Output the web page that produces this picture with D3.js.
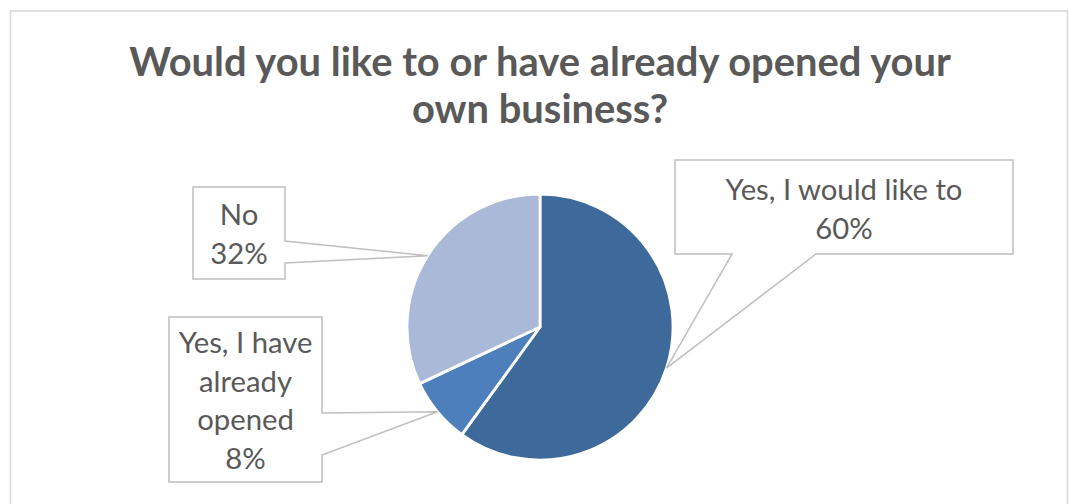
<!DOCTYPE html>
<html>
<head>
<meta charset="utf-8">
<script src="https://cdn.jsdelivr.net/npm/d3@7"></script>
<style>
  html, body { margin: 0; padding: 0; background: #fff; }
  svg { display: block; }
</style>
</head>
<body>
<svg id="chart" width="1069" height="504"></svg>
<script>
// Survey answers, clockwise from 12 o'clock
const categories = ["Yes, I would like to", "Yes, I have already opened", "No"];
const values = [60, 8, 32];
const labelLines = [
  ["Yes, I would like to", "60%"],
  ["Yes, I have", "already", "opened", "8%"],
  ["No", "32%"]
];
const colors = ["#3E6A9B", "#4C7FBC", "#AAB9D7"];
const titleLines = ["Would you like to or have already opened your", "own business?"];

const svg = d3.select("#chart");
const font = "Lato, 'Open Sans', sans-serif";
const textColor = "#595959";

// Chart area frame
svg.append("rect")
  .attr("x", 10.5).attr("y", 11)
  .attr("width", 1057).attr("height", 520)
  .attr("fill", "#fff")
  .attr("stroke", "#D9D9D9").attr("stroke-width", 1.6);

// Size a font so that a sample string spans a given width
function fitSize(sample, weight, targetWidth) {
  const t = svg.append("text").attr("font-family", font)
    .attr("font-weight", weight).attr("font-size", 100).text(sample);
  const w = t.node().getComputedTextLength();
  t.remove();
  return 100 * targetWidth / w;
}

// Title
const titleSize = fitSize(titleLines[0], 700, 822);
const titleG = svg.append("text")
  .attr("font-family", font).attr("font-weight", 700)
  .attr("font-size", titleSize).attr("fill", textColor)
  .attr("text-anchor", "middle");
titleG.selectAll("tspan").data(titleLines).join("tspan")
  .attr("x", 540).attr("y", (d, i) => 76 + i * 47).text(d => d);

// Pie
const cx = 540, cy = 327, r = 133;
const pie = d3.pie().sort(null).value(d => d);
const arcs = pie(values);
const arc = d3.arc().innerRadius(0).outerRadius(r);
const rim = d3.arc().innerRadius(r).outerRadius(r);

const g = svg.append("g").attr("transform", `translate(${cx},${cy})`);
g.selectAll("path").data(arcs).join("path")
  .attr("d", arc)
  .attr("fill", (d, i) => colors[i])
  .attr("stroke", "#fff").attr("stroke-width", 2.8)
  .attr("stroke-linejoin", "round");

// Callout boxes: [left, top, right, bottom], pointer side and its two base points
const boxes = [
  { x0: 675, y0: 160, x1: 1013, y1: 254, side: "bottom", a: 732, b: 816, first: 200 },
  { x0: 169, y0: 317, x1: 322, y1: 482, side: "right", a: 413, b: 455, first: 353 },
  { x0: 193, y0: 187, x1: 285, y1: 279, side: "right", a: 241, b: 263, first: 225 }
];

const labelSize = fitSize("Yes, I would like to", 400, 237);

arcs.forEach((d, i) => {
  const bx = boxes[i];
  const [tx0, ty0] = rim.centroid(d);
  const tx = cx + tx0, ty = cy + ty0;
  const p = d3.path();
  p.moveTo(bx.x0, bx.y0);
  p.lineTo(bx.x1, bx.y0);
  if (bx.side === "right") {
    p.lineTo(bx.x1, bx.a);
    p.lineTo(tx, ty);
    p.lineTo(bx.x1, bx.b);
    p.lineTo(bx.x1, bx.y1);
    p.lineTo(bx.x0, bx.y1);
  } else {
    p.lineTo(bx.x1, bx.y1);
    p.lineTo(bx.b, bx.y1);
    p.lineTo(tx, ty);
    p.lineTo(bx.a, bx.y1);
    p.lineTo(bx.x0, bx.y1);
  }
  p.closePath();
  svg.append("path").attr("d", p.toString())
    .attr("fill", "#fff").attr("stroke", "#BFBFBF").attr("stroke-width", 1.5);

  const lh = 38.5;
  const t = svg.append("text")
    .attr("font-family", font).attr("font-size", labelSize)
    .attr("fill", textColor).attr("text-anchor", "middle");
  t.selectAll("tspan").data(labelLines[i]).join("tspan")
    .attr("x", (bx.x0 + bx.x1) / 2)
    .attr("y", (l, k) => bx.first + k * lh)
    .text(l => l);
});
</script>
</body>
</html>
